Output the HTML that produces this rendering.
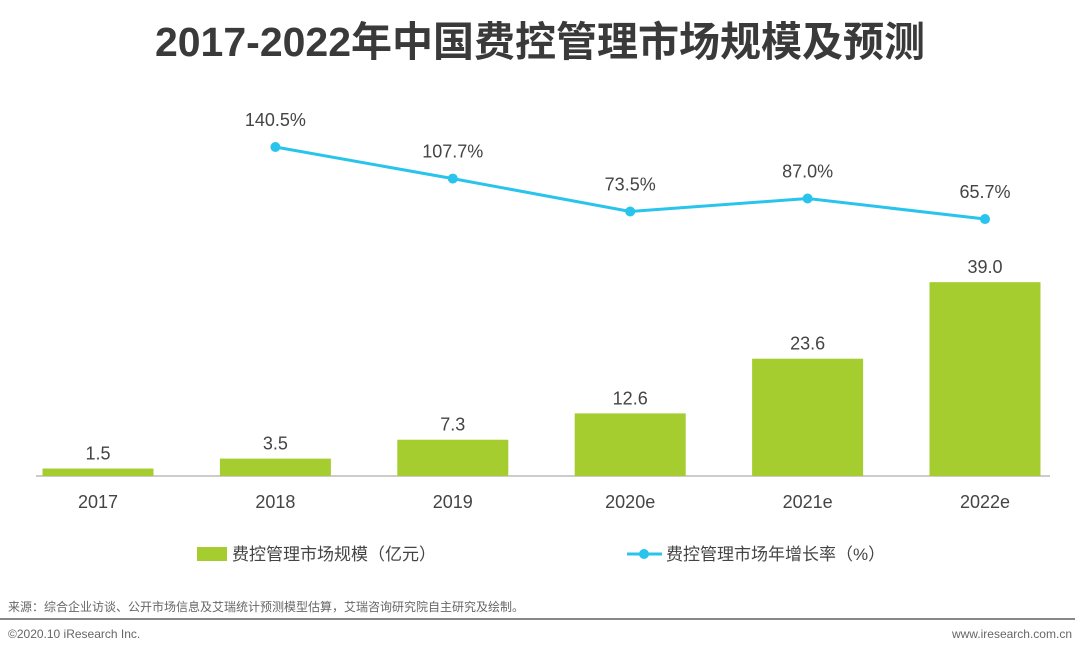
<!DOCTYPE html>
<html><head><meta charset="utf-8"><style>
body{margin:0;background:#fff;width:1080px;height:654px;overflow:hidden;font-family:"Liberation Sans","Noto Sans CJK SC",sans-serif;}
</style></head><body>
<svg id="c" width="1080" height="654" xmlns="http://www.w3.org/2000/svg">
<text x="540" y="56" text-anchor="middle" font-size="41" font-weight="bold" fill="#3a3a3a" font-family="Liberation Sans, Noto Sans CJK SC, sans-serif">2017-2022年中国费控管理市场规模及预测</text>
<line x1="36" y1="476" x2="1050" y2="476" stroke="#999" stroke-width="1"/>
<g id="bars"></g><g id="line"></g><g id="xlabels"></g>
<g><rect x="197" y="547" width="30" height="14" fill="#a6cd2f"/><text x="232" y="560" font-size="17" fill="#444" font-family="Liberation Sans, Noto Sans CJK SC, sans-serif">费控管理市场规模（亿元）</text></g>
<g><line x1="627" y1="554" x2="662" y2="554" stroke="#29c4ec" stroke-width="3"/><circle cx="644" cy="554" r="5" fill="#29c4ec"/><text x="666" y="560" font-size="17" fill="#444" font-family="Liberation Sans, Noto Sans CJK SC, sans-serif">费控管理市场年增长率（%）</text></g>
<text x="8" y="611" font-size="12" fill="#666" font-family="Liberation Sans, Noto Sans CJK SC, sans-serif">来源：综合企业访谈、公开市场信息及艾瑞统计预测模型估算，艾瑞咨询研究院自主研究及绘制。</text>
<line x1="0" y1="619" x2="1075" y2="619" stroke="#888" stroke-width="2"/>
<text x="8" y="638" font-size="12" fill="#666">©2020.10 iResearch Inc.</text>
<text x="1072" y="638" text-anchor="end" font-size="12" fill="#666">www.iresearch.com.cn</text>
</svg>
<script>
const categories=["2017","2018","2019","2020e","2021e","2022e"];
const sizeValues=[1.5,3.5,7.3,12.6,23.6,39.0];
const growthYears=["2018","2019","2020e","2021e","2022e"];
const growthValues=[140.5,107.7,73.5,87.0,65.7];
const NS="http://www.w3.org/2000/svg";
function xc(i){return 98+i*177.4;}
function yb(v){return 476-v*4.97;}
function yl(v){return 147+(140.5-v)*0.963;}
function mk(t,a,p){const e=document.createElementNS(NS,t);for(const k in a)e.setAttribute(k,a[k]);p.appendChild(e);return e;}
const bars=document.getElementById('bars'),line=document.getElementById('line'),xl=document.getElementById('xlabels');
categories.forEach((c,i)=>{
 const r=mk('rect',{x:xc(i)-55.5,y:yb(sizeValues[i]),width:111,height:476-yb(sizeValues[i]),fill:'#a6cd2f'},bars);
 
 
 const t=mk('text',{x:xc(i),y:yb(sizeValues[i])-9,'text-anchor':'middle','font-size':18,fill:'#444'},bars);
 t.textContent=sizeValues[i].toFixed(1);
 
 
 const x=mk('text',{x:xc(i),y:508,'text-anchor':'middle','font-size':18,fill:'#444'},xl);
 x.textContent=c;
 
 
});
const pts=growthYears.map((y,j)=>[xc(categories.indexOf(y)),yl(growthValues[j])]);
const pl=mk('polyline',{points:pts.map(p=>p.join(',')).join(' '),fill:'none',stroke:'#29c4ec','stroke-width':3},line);


pts.forEach((p,j)=>{
 const c=mk('circle',{cx:p[0],cy:p[1],r:5,fill:'#29c4ec'},line);
 
 
 const t=mk('text',{x:p[0],y:p[1]-21,'text-anchor':'middle','font-size':18,fill:'#444'},line);
 t.textContent=growthValues[j].toFixed(1)+'%';
 
 
});
</script>
</body></html>
